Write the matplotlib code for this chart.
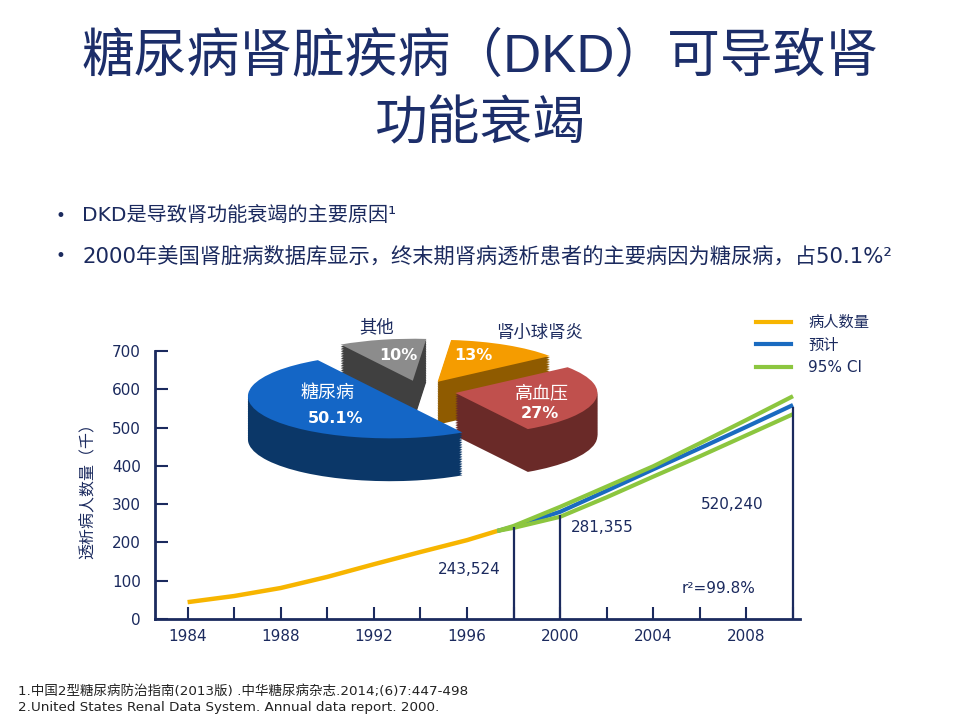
import numpy as np
import matplotlib
matplotlib.use('Agg')
import matplotlib.pyplot as plt
from matplotlib.lines import Line2D

plt.rcParams['font.family'] = ['DejaVu Sans', 'Noto Sans CJK SC']

navy = '#1B2A5E'

# --- data ---
years_hist = [1984, 1986, 1988, 1990, 1992, 1994, 1996, 1997.3]
patients_hist = [44, 60, 81, 110, 143, 175, 206, 230]

years_proj = [1997.3, 1998, 2000, 2002, 2004, 2006, 2008, 2010]
patients_proj = [230, 241, 280, 335, 391, 446, 502, 559]
ci_upper = [230, 243, 293, 346, 399, 459, 520, 582]
ci_lower = [230, 238, 267, 318, 372, 425, 480, 535]

mark_years = [1998, 2000, 2010]
mark_tops = [241, 272, 554]
mark_labels = ['243,524', '281,355', '520,240']

pie_labels = ['糖尿病', '高血压', '肾小球肾炎', '其他']
pie_values = [50.1, 27, 13, 10]
pie_pct = ['50.1%', '27%', '13%', '10%']
pie_top = ['#1466C6', '#C0504D', '#F59C00', '#8C8C8C']
pie_side = ['#0B3768', '#6A2A28', '#8F5B00', '#404040']

legend_labels = ['病人数量', '预计', '95% CI']

fig = plt.figure(figsize=(9.6, 7.2), dpi=100)


def fx(x):
    return x / 960.0


def fy(y):
    return 1 - y / 720.0


# title
title_font = ['Liberation Sans', 'Noto Sans CJK SC']
fig.text(0.5, fy(58), '糖尿病肾脏疾病（DKD）可导致肾', ha='center', va='center',
         fontsize=38, color='#1C2E6A', family=title_font, weight='light')
fig.text(0.5, fy(125), '功能衰竭', ha='center', va='center',
         fontsize=38, color='#1C2E6A', family=title_font, weight='light')

# bullets
fig.text(fx(60), fy(216), '•', ha='center', va='center', fontsize=12, color=navy)
fig.text(fx(82), fy(216), 'DKD是导致肾功能衰竭的主要原因¹', ha='left', va='center',
         fontsize=14.5, color=navy)
fig.text(fx(60), fy(256), '•', ha='center', va='center', fontsize=12, color=navy)
fig.text(fx(82), fy(256), '2000年美国肾脏病数据库显示，终末期肾病透析患者的主要病因为糖尿病，占50.1%²',
         ha='left', va='center', fontsize=15.3, color=navy)

# line chart
ax = fig.add_axes([155 / 960, (720 - 619) / 720, (800 - 155) / 960, (619 - 351) / 720])
ax.plot(years_hist, patients_hist, color='#F7B500', lw=3.2, solid_capstyle='butt')
ax.plot(years_proj, patients_proj, color='#1A6BC0', lw=3, solid_capstyle='butt')
ax.plot(years_proj, ci_upper, color='#8CC63F', lw=3, solid_capstyle='butt')
ax.plot(years_proj, ci_lower, color='#8CC63F', lw=3, solid_capstyle='butt')
ax.vlines(mark_years, 0, mark_tops, color=navy, lw=1.6)

ax.text(1996.1, 128, mark_labels[0], ha='center', va='center', fontsize=11, color=navy)
ax.text(2001.8, 240, mark_labels[1], ha='center', va='center', fontsize=11, color=navy)
ax.text(2007.4, 300, mark_labels[2], ha='center', va='center', fontsize=11, color=navy)
ax.text(2006.8, 80, 'r²=99.8%', ha='center', va='center', fontsize=11, color=navy)

ax.set_xlim(1982.6, 2010.3)
ax.set_ylim(0, 700)
ax.set_xticks(range(1984, 2009, 4))
ax.set_xticks(range(1986, 2011, 4), minor=True)
ax.set_yticks(range(0, 701, 100))
ax.tick_params(axis='both', which='both', direction='in', length=9, width=1.5,
               colors=navy, labelsize=11)
ax.tick_params(axis='x', pad=7)
ax.tick_params(axis='y', pad=10)
for s in ['top', 'right']:
    ax.spines[s].set_visible(False)
for s in ['left', 'bottom']:
    ax.spines[s].set_color(navy)
    ax.spines[s].set_linewidth(2)
ax.set_facecolor('none')

fig.text(fx(88), fy(487), '透析病人数量（千）', rotation=90, ha='center', va='center',
         fontsize=11.5, color=navy)

# legend
handles = [Line2D([], [], color=c, lw=3) for c in ['#F7B500', '#1A6BC0', '#8CC63F']]
fig.legend(handles, legend_labels, loc='upper left', bbox_to_anchor=(fx(756), fy(315)),
           frameon=False, fontsize=11, labelcolor=navy, handlelength=2.3,
           handletextpad=1.1, labelspacing=0.5, borderpad=0, borderaxespad=0)

# exploded 3d pie: stacked layers for depth, then the top face
pax = fig.add_axes([fx(420.5 - 1.6 * 142), fy(391 + 2.4 * 42), 3.2 * 142 / 960, 4.0 * 42 / 720])
depth = 1.02
for d in np.linspace(-depth, 0, 26)[:-1]:
    pax.pie(pie_values, explode=[0.25] * 4, startangle=120.5, colors=pie_side,
            center=(0, d), wedgeprops=dict(linewidth=0))
pax.pie(pie_values, explode=[0.25] * 4, startangle=120.5, colors=pie_top,
        center=(0, 0), wedgeprops=dict(linewidth=0))
pax.set_aspect('auto')
pax.set_xlim(-1.6, 1.6)
pax.set_ylim(-2.4, 1.6)
pax.axis('off')

fig.text(fx(328), fy(393), pie_labels[0], ha='center', va='center', fontsize=13, color='white')
fig.text(fx(336), fy(418), pie_pct[0], ha='center', va='center', fontsize=11.5,
         color='white', weight='bold')
fig.text(fx(542), fy(393), pie_labels[1], ha='center', va='center', fontsize=13, color='white')
fig.text(fx(540), fy(413), pie_pct[1], ha='center', va='center', fontsize=11.5,
         color='white', weight='bold')
fig.text(fx(540), fy(333), pie_labels[2], ha='center', va='center', fontsize=12.5, color=navy)
fig.text(fx(473), fy(355), pie_pct[2], ha='center', va='center', fontsize=11.5,
         color='white', weight='bold')
fig.text(fx(377), fy(327), pie_labels[3], ha='center', va='center', fontsize=12.5, color=navy)
fig.text(fx(398), fy(355), pie_pct[3], ha='center', va='center', fontsize=11.5,
         color='white', weight='bold')

# footnotes
fig.text(fx(18), fy(691), '1.中国2型糖尿病防治指南(2013版) .中华糖尿病杂志.2014;(6)7:447-498',
         ha='left', va='center', fontsize=9.7, color='#222222')
fig.text(fx(18), fy(707), '2.United States Renal Data System. Annual data report. 2000.',
         ha='left', va='center', fontsize=9.7, color='#222222')

fig.savefig('out.png', dpi=100)
